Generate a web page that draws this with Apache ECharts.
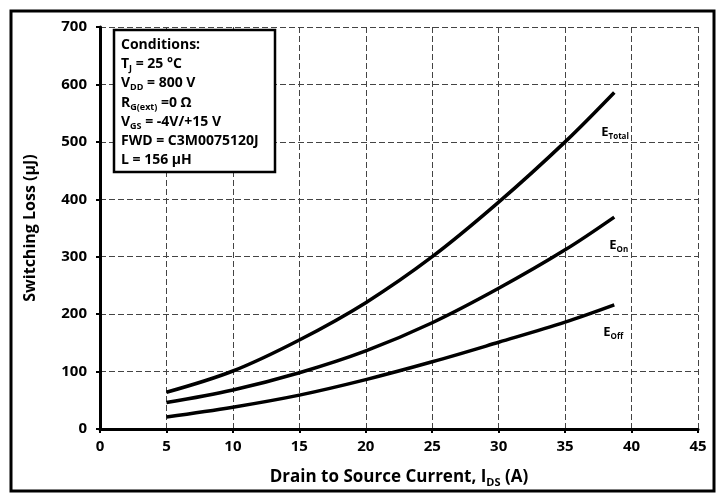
<!DOCTYPE html>
<html>
<head>
<meta charset="utf-8">
<script src="https://cdn.jsdelivr.net/npm/echarts@6/dist/echarts.min.js"></script>
<style>
	html, body { margin: 0; padding: 0; background: #fff; }
	#chart { width: 726px; height: 495px; }
</style>
</head>
<body>
<div id="chart"></div>
<script>
// drain current (A)
const current = [5, 10, 15, 20, 25, 30, 35, 38.7];
// switching loss (uJ)
const eTotal = [64, 101, 155, 220, 300, 395, 500, 586];
const eOn = [46, 68, 98, 136, 185, 245, 312, 369];
const eOff = [21, 38, 59, 86, 117, 151, 186, 216];
const xTicks = [0, 45, 5];
const yTicks = [0, 700, 100];
const conditions = [
	"Conditions:",
	"T{s|J} = 25 °C",
	"V{s|DD} = 800 V",
	"R{s|G(ext)} =0 Ω",
	"V{s|GS} = -4V/+15 V",
	"FWD = C3M0075120J",
	"L = 156 µH"
];

const font = "'Open Sans', 'DejaVu Sans', sans-serif";

function subRich(size) {
	let small = Math.round(size * 0.65);
	return {
		m: { fontFamily: font, fontWeight: "bold", fontSize: size, color: "#000", lineHeight: size + 4, verticalAlign: "middle" },
		s: { fontFamily: font, fontWeight: "bold", fontSize: small, color: "#000", lineHeight: small, verticalAlign: "bottom" }
	};
}

function makeSeries(name, sub, ys, offset) {
	return {
		type: "line",
		smooth: 0.35,
		symbol: "none",
		silent: true,
		lineStyle: { color: "#000", width: 3.5 },
		endLabel: {
			show: true,
			offset: offset,
			formatter: "{m|" + name + "}{s|" + sub + "}",
			rich: subRich(13)
		},
		data: ys.map(function(y, i) {
			return [current[i], y];
		})
	};
}

let chart = echarts.init(document.getElementById("chart"));

let condText = conditions.map(function(t, i) {
	return {
		type: "text",
		x: 121,
		y: 45 + i * 19.2,
		z: 110,
		style: {
			text: "{m|" + t.replace(/\{s\|([^}]*)\}/g, "}{s|$1}{m|") + "}",
			verticalAlign: "middle",
			rich: subRich(14)
		}
	};
});

let option = {
	animation: false,
	grid: { left: 100, right: 28, top: 27, bottom: 66, outerBoundsMode: "none", containLabel: false },
	xAxis: {
		type: "value",
		min: xTicks[0],
		max: xTicks[1],
		interval: xTicks[2],
		name: "{m|Drain to Source Current, I}{s|DS}{m| (A)}",
		nameLocation: "middle",
		nameGap: 38,
		nameTextStyle: { rich: subRich(17) },
		axisLine: { lineStyle: { color: "#000", width: 3 } },
		axisTick: { show: true, length: 4, lineStyle: { color: "#000", width: 2 } },
		axisLabel: { fontFamily: font, fontWeight: "bold", fontSize: 15, color: "#000", margin: 10 },
		splitLine: { show: true, lineStyle: { color: "#444", width: 1, type: [6, 3] } }
	},
	yAxis: {
		type: "value",
		min: yTicks[0],
		max: yTicks[1],
		interval: yTicks[2],
		name: "Switching Loss (µJ)",
		nameLocation: "middle",
		nameGap: 62,
		nameTextStyle: { fontFamily: font, fontWeight: "bold", fontSize: 16, color: "#000" },
		axisLine: { show: true, lineStyle: { color: "#000", width: 3 } },
		axisTick: { show: true, length: 4, lineStyle: { color: "#000", width: 2 } },
		axisLabel: { fontFamily: font, fontWeight: "bold", fontSize: 15, color: "#000", margin: 13 },
		splitLine: { show: true, lineStyle: { color: "#444", width: 1, type: [6, 3] } }
	},
	series: [
		makeSeries("E", "Total", eTotal, [-21, 40]),
		makeSeries("E", "On", eOn, [-13, 28]),
		makeSeries("E", "Off", eOff, [-19, 27])
	],
	graphic: [
		{
			type: "rect",
			x: 11,
			y: 11,
			shape: { width: 703, height: 480 },
			style: { fill: "none", stroke: "#000", lineWidth: 3 },
			z: 100
		},
		{
			type: "rect",
			x: 114,
			y: 30,
			shape: { width: 161, height: 142 },
			style: { fill: "#fff", stroke: "#000", lineWidth: 2.5 },
			z: 100
		}
	].concat(condText)
};

chart.setOption(option);
</script>
</body>
</html>
